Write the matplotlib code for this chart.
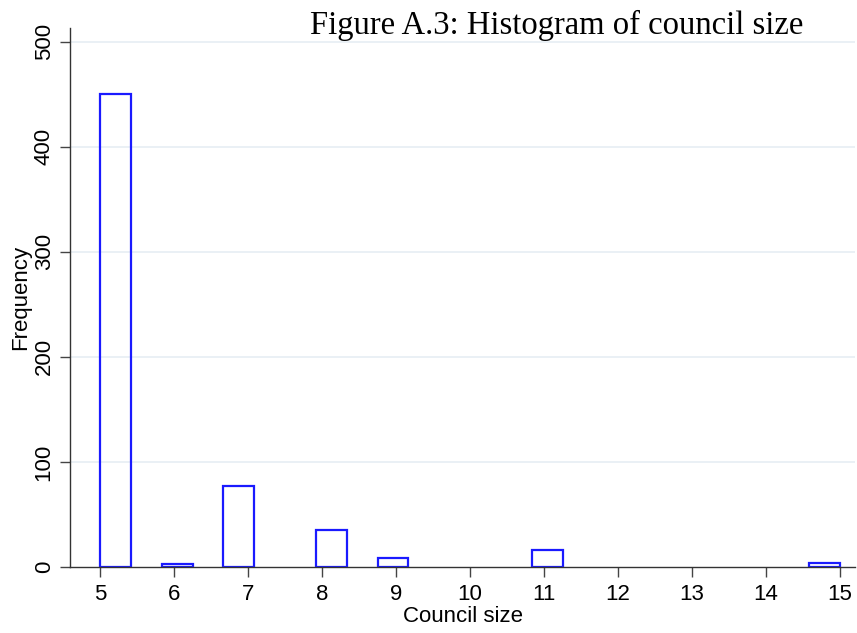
import matplotlib
matplotlib.use("Agg")
import matplotlib.pyplot as plt
import numpy as np

# council size -> number of councils
council_size = [5, 6, 7, 8, 9, 11, 15]
frequency = [450, 3, 77, 35, 9, 16, 4]

x_ticks = list(range(5, 16))
y_ticks = [0, 100, 200, 300, 400, 500]

plt.rcParams['font.family'] = ['Liberation Sans', 'DejaVu Sans']

fig = plt.figure(figsize=(8.57, 6.33), dpi=100)
ax = fig.add_axes([70 / 857, (633 - 567) / 633, (855 - 70) / 857, (567 - 28) / 633])

# stata-style histogram: 24 bins between min and max, empty bins not drawn
bins = np.linspace(5, 15, 25)
counts, edges = np.histogram(council_size, bins=bins, weights=frequency)
keep = counts > 0
ax.bar(edges[:-1][keep], counts[keep], width=np.diff(edges)[keep], align='edge',
       fill=False, edgecolor='#1a1aff', linewidth=1.6, zorder=3)

ax.set_xlim(5 - 30 / 74, 15 + 15 / 74)
ax.set_ylim(0, 513)
ax.set_xticks(x_ticks)
ax.set_yticks(y_ticks)
ax.set_yticklabels([str(v) for v in y_ticks], rotation=90, va='center')
ax.tick_params(axis='both', labelsize=16, length=7, width=1, color='#444444',
               direction='out', pad=5)
ax.tick_params(axis='y', pad=4)

for v in y_ticks[1:]:
    ax.axhline(v, color='#e8eff4', linewidth=1.3, zorder=0)

for s in ['top', 'right']:
    ax.spines[s].set_visible(False)
for s in ['left', 'bottom']:
    ax.spines[s].set_color('#333333')
    ax.spines[s].set_linewidth(1)
    ax.spines[s].set_zorder(4)

ax.set_xlabel('Council size', fontsize=16, labelpad=1)
ax.set_ylabel('Frequency', fontsize=16, labelpad=2)

fig.text(557 / 857, 1 - 25 / 633, 'Figure A.3: Histogram of council size',
         ha='center', va='center', fontsize=23.5, family=['Liberation Serif'])

fig.savefig('out.png', dpi=100)
